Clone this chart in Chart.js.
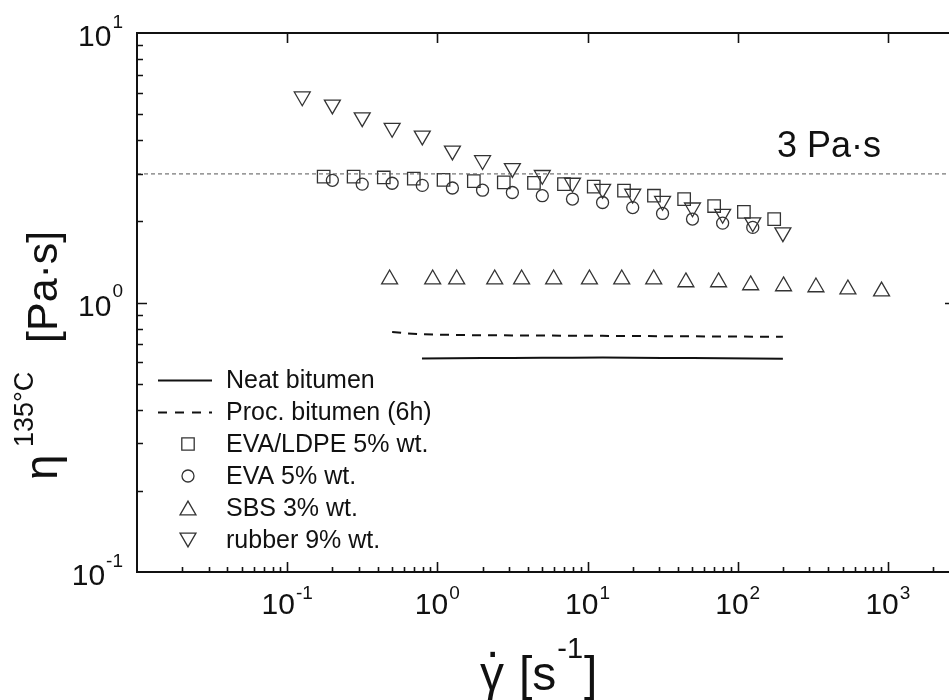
<!DOCTYPE html>
<html lang="en">
<head>
<meta charset="utf-8">
<title>Viscosity at 135°C</title>
<script src="https://cdn.jsdelivr.net/npm/chart.js@4.4.1/dist/chart.umd.min.js"></script>
<style>
  html, body { margin: 0; padding: 0; background: #fff; overflow: hidden; }
  #contenedor { width: 1000px; height: 700px; }
</style>
</head>
<body>
<div id="contenedor"><canvas id="graficoViscosidad" width="1000" height="700"></canvas></div>
<script>
const FUENTE = '"Liberation Sans", Arial, Helvetica, sans-serif';
const TINTA = '#111';
const MARCA = '#333';

// Log axis limits
const xMin = 0.01, xMax = 2800;
const yMin = 0.1, yMax = 10;
const xTickExps = [-1, 0, 1, 2, 3];
const yTickExps = [-1, 0, 1];

// Reference viscosity
const refLevel = 3;
const refLabel = '3 Pa·s';

// Neat bitumen
const neatX = [0.79, 1.26, 2, 3.16, 5, 7.94, 12.6, 20, 31.6, 50, 79.4, 126, 200];
const neatY = [0.620, 0.621, 0.622, 0.623, 0.624, 0.624, 0.625, 0.624, 0.623, 0.622, 0.621, 0.620, 0.619];

// Processed bitumen (6h)
const procX = [0.5, 0.63, 0.79, 1.26, 2, 3.16, 5, 7.94, 12.6, 20, 31.6, 50, 79.4, 126, 200];
const procY = [0.778, 0.768, 0.762, 0.758, 0.756, 0.755, 0.754, 0.753, 0.752, 0.751, 0.750, 0.749, 0.748, 0.747, 0.746];

// EVA/LDPE 5% wt.
const evaLdpeX = [0.175, 0.277, 0.44, 0.697, 1.1, 1.75, 2.77, 4.4, 6.97, 11, 17.5, 27.7, 44, 69.7, 110, 175];
const evaLdpeY = [2.93, 2.93, 2.91, 2.88, 2.85, 2.82, 2.79, 2.78, 2.75, 2.69, 2.60, 2.49, 2.42, 2.28, 2.17, 2.04];

// EVA 5% wt.
const evaX = [0.2, 0.316, 0.5, 0.794, 1.26, 2, 3.16, 5, 7.94, 12.6, 20, 31.6, 50, 79.4, 126];
const evaY = [2.84, 2.75, 2.77, 2.72, 2.66, 2.61, 2.56, 2.49, 2.42, 2.35, 2.25, 2.14, 2.04, 1.97, 1.90];

// SBS 3% wt.
const sbsX = [0.481, 0.931, 1.345, 2.41, 3.64, 5.95, 10.3, 16.9, 27.6, 45.2, 74.6, 122, 202, 332, 542, 908];
const sbsY = [1.22, 1.22, 1.22, 1.22, 1.22, 1.22, 1.22, 1.22, 1.22, 1.19, 1.19, 1.16, 1.15, 1.14, 1.12, 1.10];

// rubber 9% wt.
const rubberX = [0.126, 0.2, 0.316, 0.5, 0.794, 1.26, 2, 3.16, 5, 7.94, 12.6, 20, 31.6, 50, 79.4, 126, 200];
const rubberY = [5.81, 5.42, 4.86, 4.44, 4.16, 3.66, 3.37, 3.15, 2.97, 2.78, 2.64, 2.53, 2.38, 2.25, 2.13, 1.98, 1.82];

const nombres = ['Neat bitumen', 'Proc. bitumen (6h)', 'EVA/LDPE 5% wt.', 'EVA 5% wt.', 'SBS 3% wt.', 'rubber 9% wt.'];
const estilosLeyenda = ['solid', 'dash', 'rect', 'circle', 'up', 'down'];

function pares(xs, ys) {
  return xs.map((x, i) => ({ x: x, y: ys[i] }));
}

// "10" con exponente
function potencia(ctx, exp, x, y, align, dySup) {
  ctx.font = '30px ' + FUENTE;
  const wBase = ctx.measureText('10').width;
  ctx.font = '19px ' + FUENTE;
  const sup = String(exp);
  const wSup = ctx.measureText(sup).width;
  const total = wBase + 1 + wSup;
  let x0 = x;
  if (align === 'center') x0 = x - total / 2;
  if (align === 'right') x0 = x - total;
  ctx.textAlign = 'left';
  ctx.textBaseline = 'alphabetic';
  ctx.font = '30px ' + FUENTE;
  ctx.fillText('10', x0, y);
  ctx.font = '19px ' + FUENTE;
  ctx.fillText(sup, x0 + wBase + 1, y - dySup);
}

function marcador(ctx, tipo, x, y) {
  ctx.beginPath();
  if (tipo === 'rect') {
    const h = 6.2;
    ctx.rect(x - h, y - h, 2 * h, 2 * h);
  } else if (tipo === 'circle') {
    ctx.arc(x, y, 6, 0, Math.PI * 2);
  } else if (tipo === 'up') {
    const r = 9.2, yc = y + r / 4;
    ctx.moveTo(x, yc - r);
    ctx.lineTo(x + r * 0.866, yc + r / 2);
    ctx.lineTo(x - r * 0.866, yc + r / 2);
    ctx.closePath();
  } else if (tipo === 'down') {
    const r = 9.2, yc = y - r / 4;
    ctx.moveTo(x, yc + r);
    ctx.lineTo(x + r * 0.866, yc - r / 2);
    ctx.lineTo(x - r * 0.866, yc - r / 2);
    ctx.closePath();
  }
  ctx.stroke();
}

// Marco, marcas hacia adentro, etiquetas y leyenda
const ejes = {
  id: 'ejes',
  afterDraw(chart) {
    const { ctx, chartArea: a, scales: { x, y } } = chart;
    ctx.save();
    ctx.strokeStyle = TINTA;
    ctx.fillStyle = TINTA;
    ctx.lineWidth = 2;
    ctx.strokeRect(a.left, a.top, a.right - a.left, a.bottom - a.top);

    // marcas del eje x (abajo: mayores y menores, arriba: solo mayores)
    ctx.lineWidth = 1.6;
    ctx.beginPath();
    for (let d = -2; d <= 3; d++) {
      for (let k = 1; k <= 9; k++) {
        const v = k * Math.pow(10, d);
        if (v <= xMin || v >= xMax) continue;
        const px = Math.round(x.getPixelForValue(v)) + 0.5;
        const largo = k === 1 ? 10 : 5;
        ctx.moveTo(px, a.bottom);
        ctx.lineTo(px, a.bottom - largo);
        if (k === 1) {
          ctx.moveTo(px, a.top);
          ctx.lineTo(px, a.top + 10);
        }
      }
    }
    // marcas del eje y (izquierda y derecha)
    for (let d = -1; d <= 0; d++) {
      for (let k = 1; k <= 9; k++) {
        const v = k * Math.pow(10, d);
        if (v <= yMin || v >= yMax) continue;
        const py = Math.round(y.getPixelForValue(v)) + 0.5;
        const largo = k === 1 ? 10 : 6;
        ctx.moveTo(a.left, py);
        ctx.lineTo(a.left + largo, py);
        if (k === 1) {
          ctx.moveTo(a.right, py);
          ctx.lineTo(a.right - 10, py);
        }
      }
    }
    ctx.stroke();

    // etiquetas
    xTickExps.forEach(e => {
      potencia(ctx, e, x.getPixelForValue(Math.pow(10, e)), 614, 'center', 15);
    });
    yTickExps.forEach(e => {
      const py = y.getPixelForValue(Math.pow(10, e));
      potencia(ctx, e, 123, py + 13, 'right', 18.5);
    });

    // texto de referencia
    ctx.font = '36px ' + FUENTE;
    ctx.textAlign = 'left';
    ctx.fillText(refLabel, 777, y.getPixelForValue(refLevel) - 17);

    // titulo del eje x
    ctx.font = '48px ' + FUENTE;
    ctx.fillText('γ', 480, 690);
    ctx.fillText('.', 486, 657);
    ctx.fillText('[s', 519, 690);
    let xx = 519 + ctx.measureText('[s').width + 1;
    ctx.font = '29px ' + FUENTE;
    ctx.fillText('-1', xx, 658);
    xx += ctx.measureText('-1').width + 1;
    ctx.font = '48px ' + FUENTE;
    ctx.fillText(']', xx, 690);

    // titulo del eje y (girado)
    ctx.save();
    ctx.translate(57, 480);
    ctx.rotate(-Math.PI / 2);
    ctx.font = '46px ' + FUENTE;
    ctx.fillText('η', 0, 0);
    ctx.font = '27px ' + FUENTE;
    ctx.fillText('135°C', 33, -24);
    ctx.font = '43px ' + FUENTE;
    ctx.fillText('[Pa·s]', 137, 0);
    ctx.restore();

    // leyenda
    ctx.font = '25px ' + FUENTE;
    ctx.textBaseline = 'middle';
    nombres.forEach((n, i) => {
      const fy = 380 + i * 32;
      ctx.strokeStyle = i < 2 ? TINTA : MARCA;
      if (estilosLeyenda[i] === 'solid' || estilosLeyenda[i] === 'dash') {
        ctx.lineWidth = 2;
        ctx.setLineDash(estilosLeyenda[i] === 'dash' ? [9, 8] : []);
        ctx.beginPath();
        ctx.moveTo(158, fy + 0.5);
        ctx.lineTo(212, fy + 0.5);
        ctx.stroke();
        ctx.setLineDash([]);
      } else {
        ctx.lineWidth = 1.3;
        marcador(ctx, estilosLeyenda[i], 188, fy);
      }
      ctx.fillStyle = TINTA;
      ctx.fillText(n, 226, fy + 1);
    });
    ctx.restore();
  }
};

function renderizarGrafico() {
  const ctx = document.getElementById('graficoViscosidad').getContext('2d');
  const puntos = {
    showLine: false,
    borderColor: MARCA,
    backgroundColor: 'rgba(0,0,0,0)',
    pointBorderColor: MARCA,
    pointBackgroundColor: 'rgba(0,0,0,0)',
    pointBorderWidth: 1.3
  };

  new Chart(ctx, {
    type: 'scatter',
    data: {
      datasets: [
        {
          label: 'ref',
          data: pares([xMin, xMax], [refLevel, refLevel]),
          showLine: true,
          borderColor: '#555',
          borderWidth: 1,
          borderDash: [4, 3],
          pointRadius: 0
        },
        {
          label: nombres[0],
          data: pares(neatX, neatY),
          showLine: true,
          borderColor: TINTA,
          borderWidth: 2,
          pointRadius: 0
        },
        {
          label: nombres[1],
          data: pares(procX, procY),
          showLine: true,
          borderColor: TINTA,
          borderWidth: 2,
          borderDash: [9, 7],
          pointRadius: 0
        },
        Object.assign({ label: nombres[2], data: pares(evaLdpeX, evaLdpeY), pointStyle: 'rect', pointRadius: 8.8 }, puntos),
        Object.assign({ label: nombres[3], data: pares(evaX, evaY), pointStyle: 'circle', pointRadius: 6 }, puntos),
        Object.assign({ label: nombres[4], data: pares(sbsX, sbsY), pointStyle: 'triangle', pointRadius: 9.2 }, puntos),
        Object.assign({ label: nombres[5], data: pares(rubberX, rubberY), pointStyle: 'triangle', pointRotation: 180, pointRadius: 9.2 }, puntos)
      ]
    },
    options: {
      responsive: false,
      animation: false,
      layout: { padding: { left: 137, top: 33, right: 45, bottom: 128 } },
      plugins: {
        legend: { display: false },
        tooltip: { enabled: false }
      },
      scales: {
        x: { type: 'logarithmic', min: xMin, max: xMax, display: false },
        y: { type: 'logarithmic', min: yMin, max: yMax, display: false }
      }
    },
    plugins: [ejes]
  });
}

renderizarGrafico();
</script>
</body>
</html>
